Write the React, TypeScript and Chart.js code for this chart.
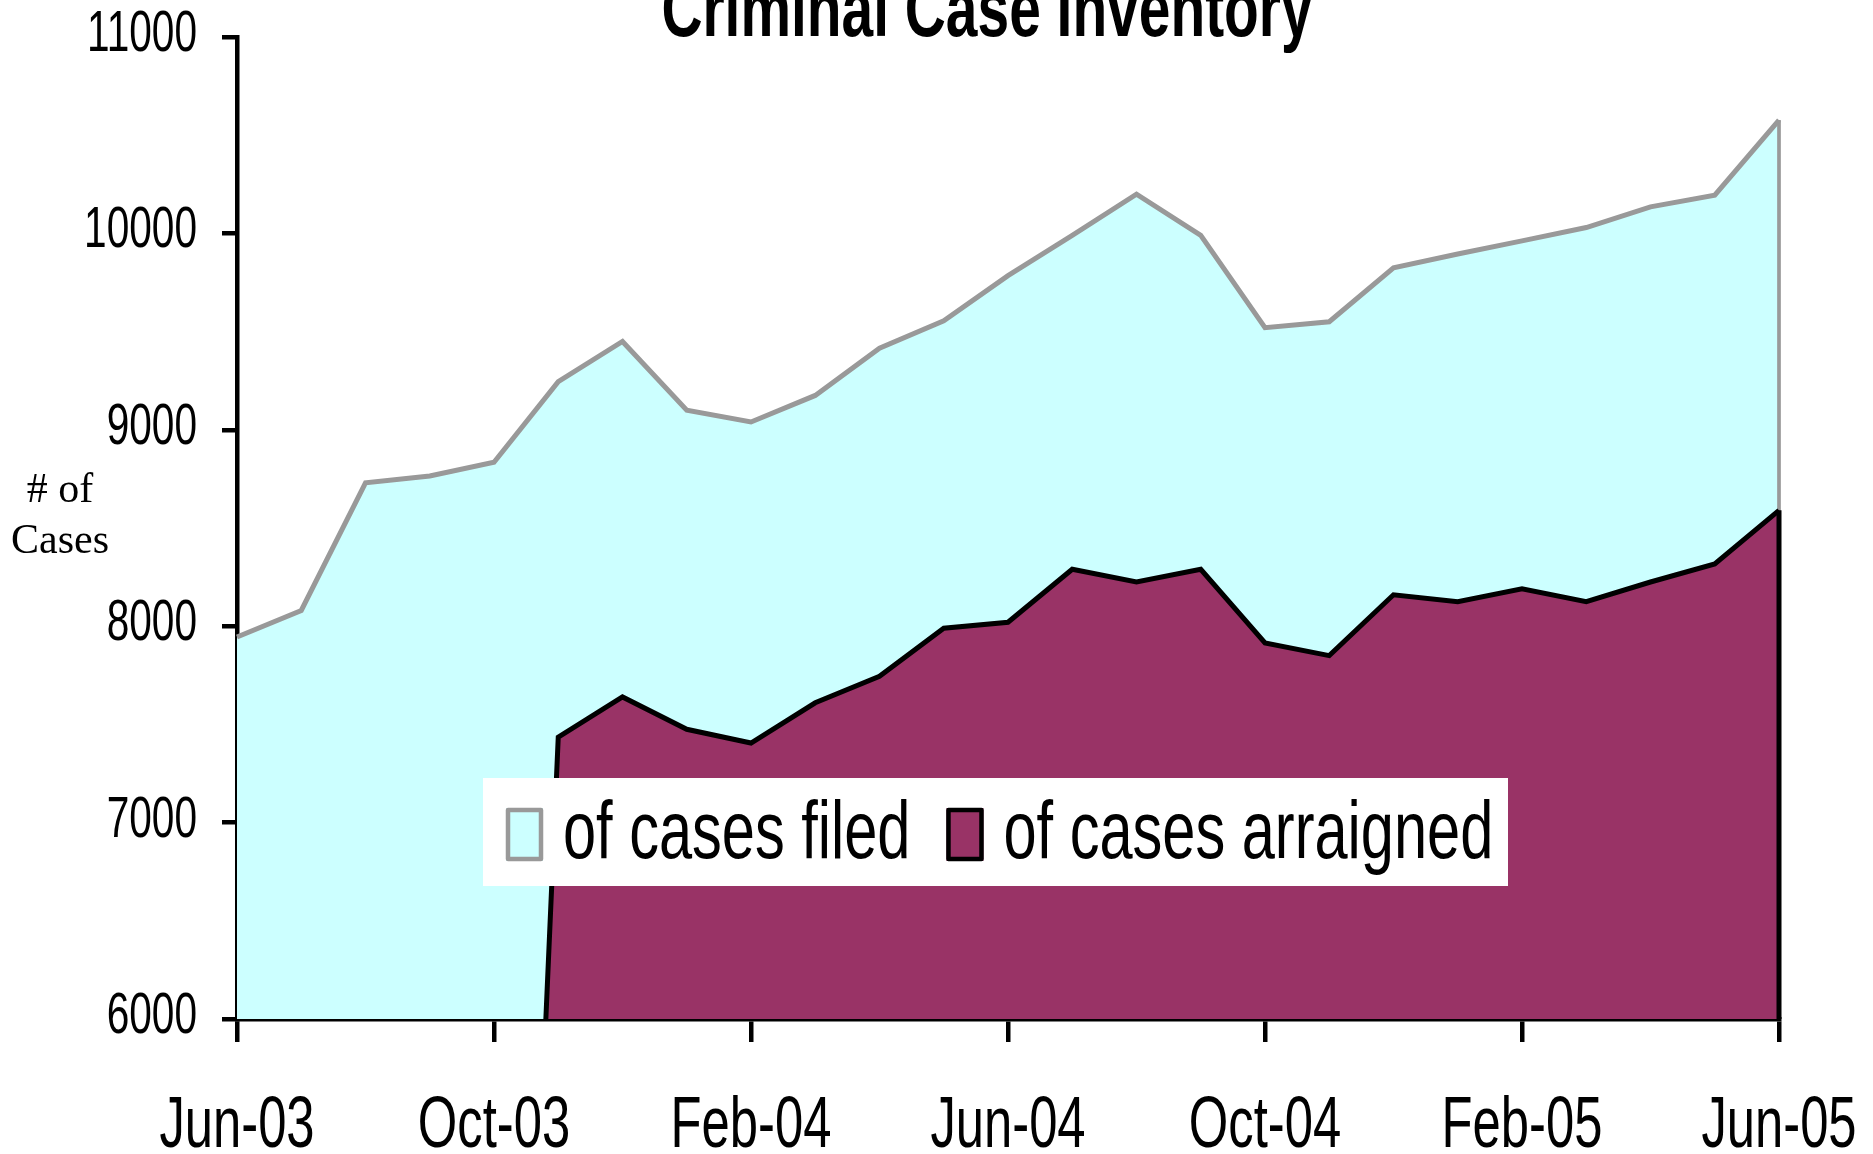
import React, { useEffect, useRef } from "react";
import { Chart, registerables } from "chart.js";

Chart.register(...registerables);

const chartTitle = "Criminal Case Inventory";
const yAxisTitle = ["# of", "Cases"];
const months = [
  "Jun-03", "Jul-03", "Aug-03", "Sep-03", "Oct-03", "Nov-03", "Dec-03",
  "Jan-04", "Feb-04", "Mar-04", "Apr-04", "May-04", "Jun-04", "Jul-04",
  "Aug-04", "Sep-04", "Oct-04", "Nov-04", "Dec-04", "Jan-05", "Feb-05",
  "Mar-05", "Apr-05", "May-05", "Jun-05",
];
const casesFiled = [
  7945, 8080, 8730, 8765, 8835, 9245, 9450, 9100, 9040, 9175, 9415, 9555,
  9785, 9990, 10200, 9990, 9520, 9550, 9825, 9895, 9962, 10030, 10135, 10195,
  10577,
];
const casesArraigned = [
  0, 0, 0, 0, 0, 7435, 7640, 7475, 7405, 7610, 7745, 7990, 8020, 8290, 8225,
  8290, 7915, 7850, 8160, 8125, 8190, 8125, 8225, 8317, 8590,
];
const seriesNames = ["of cases filed", "of cases arraigned"];
const xTickStep = 4;
const yMin = 6000;
const yMax = 11000;
const yStep = 1000;

const SANS = '"Liberation Sans", Arial, sans-serif';
const SERIF = '"Liberation Serif", "Times New Roman", serif';

function drawScaled(
  ctx: CanvasRenderingContext2D,
  text: string,
  x: number,
  y: number,
  font: string,
  sx: number,
  align: "left" | "center" | "right"
) {
  ctx.save();
  ctx.font = font;
  ctx.textAlign = "left";
  ctx.textBaseline = "alphabetic";
  ctx.fillStyle = "#000";
  const w = ctx.measureText(text).width * sx;
  const left = align === "center" ? x - w / 2 : align === "right" ? x - w : x;
  ctx.translate(left, y);
  ctx.scale(sx, 1);
  ctx.fillText(text, 0, 0);
  ctx.restore();
  return w;
}

const edgePlugin = {
  id: "areaEdges",
  afterDatasetDraw(chart: any, args: any) {
    const meta = args.meta;
    const ds = chart.data.datasets[args.index];
    const pts = meta.data;
    if (!pts.length) return;
    const last = pts[pts.length - 1];
    const ctx = chart.ctx;
    ctx.save();
    ctx.strokeStyle = ds.borderColor;
    ctx.lineWidth = ds.edgeWidth || 3.5;
    ctx.beginPath();
    ctx.moveTo(last.x, Math.max(last.y, chart.chartArea.top));
    ctx.lineTo(last.x, chart.chartArea.bottom);
    ctx.stroke();
    ctx.restore();
  },
};

const textPlugin = {
  id: "scaledTexts",
  afterDraw(chart: any) {
    const ctx: CanvasRenderingContext2D = chart.ctx;
    const xs = chart.scales.x;
    const ys = chart.scales.y;
    const area = chart.chartArea;

    // title
    drawScaled(ctx, chartTitle, 987, 36, `bold 79px ${SANS}`, 0.72, "center");

    // y axis title
    ctx.save();
    ctx.font = `42px ${SERIF}`;
    ctx.fillStyle = "#000";
    ctx.textAlign = "center";
    ctx.textBaseline = "alphabetic";
    ctx.fillText(yAxisTitle[0], 60, 502);
    ctx.fillText(yAxisTitle[1], 60, 553);
    ctx.restore();

    // y tick labels
    ys.ticks.forEach((t: any) => {
      const y = ys.getPixelForValue(t.value);
      drawScaled(ctx, String(t.value), area.left - 40, y + 14, `58px ${SANS}`, 0.7, "right");
    });

    // x tick labels
    months.forEach((m, i) => {
      if (i % xTickStep !== 0) return;
      const x = xs.getPixelForTick(i);
      drawScaled(ctx, m, x, area.bottom + 128, `72px ${SANS}`, 0.705, "center");
    });

    // legend
    const boxL = 483, boxT = 778, boxR = 1508, boxB = 886;
    ctx.save();
    ctx.fillStyle = "#fff";
    ctx.fillRect(boxL, boxT, boxR - boxL, boxB - boxT);
    ctx.restore();
    let cx = 506;
    const gapAfterText = 36;
    chart.data.datasets
      .slice()
      .sort((a: any, b: any) => a.legendIndex - b.legendIndex)
      .forEach((ds: any) => {
        ctx.save();
        ctx.fillStyle = ds.backgroundColor;
        ctx.fillRect(cx, 808, 37, 53);
        ctx.strokeStyle = ds.borderColor;
        ctx.lineWidth = 4.5;
        ctx.lineJoin = "round";
        ctx.strokeRect(cx + 2, 810, 33, 49);
        ctx.restore();
        const w = drawScaled(ctx, ds.label, cx + 57, 858, `81px ${SANS}`, 0.735, "left");
        cx = cx + 57 + w + gapAfterText;
      });
  },
};

export default function App() {
  const ref = useRef<HTMLCanvasElement | null>(null);
  useEffect(() => {
    if (!ref.current) return;
    const chart = new Chart(ref.current, {
      type: "line",
      data: {
        labels: months,
        datasets: [
          {
            label: seriesNames[0],
            data: casesFiled,
            borderColor: "#999999",
            backgroundColor: "#CCFFFF",
            borderWidth: 5,
            fill: "start",
            pointRadius: 0,
            pointHoverRadius: 0,
            tension: 0,
            order: 2,
            legendIndex: 0,
            edgeWidth: 3.7,
          } as any,
          {
            label: seriesNames[1],
            data: casesArraigned,
            borderColor: "#000000",
            backgroundColor: "#993366",
            borderWidth: 5,
            fill: "start",
            pointRadius: 0,
            pointHoverRadius: 0,
            tension: 0,
            order: 1,
            legendIndex: 1,
            edgeWidth: 5,
          } as any,
        ],
      },
      options: {
        responsive: false,
        animation: false,
        events: [],
        layout: { padding: { top: 37, right: 94, left: 0, bottom: 0 } },
        plugins: {
          legend: { display: false },
          title: { display: false },
          tooltip: { enabled: false },
        },
        scales: {
          x: {
            type: "category",
            offset: false,
            z: 1,
            afterFit: (s: any) => {
              s.height = 135;
            },
            ticks: { display: false, autoSkip: false },
            grid: {
              display: true,
              drawOnChartArea: false,
              drawTicks: true,
              tickLength: 23,
              lineWidth: 4.5,
              tickWidth: 4.5,
              tickColor: (c: any) => (c.index % xTickStep === 0 ? "#000" : "rgba(0,0,0,0)"),
            },
            border: { display: true, color: "#000", width: 4.5 },
          },
          y: {
            min: yMin,
            max: yMax,
            z: 1,
            afterFit: (s: any) => {
              s.width = 237;
            },
            ticks: { display: false, stepSize: yStep },
            grid: {
              display: true,
              drawOnChartArea: false,
              drawTicks: true,
              tickLength: 15,
              lineWidth: 4.5,
              tickWidth: 4.5,
              tickColor: "#000",
            },
            border: { display: true, color: "#000", width: 4.5 },
          },
        },
      } as any,
      plugins: [edgePlugin, textPlugin],
    });
    return () => chart.destroy();
  }, []);
  return (
    <canvas
      ref={ref}
      width={1873}
      height={1154}
      style={{ position: "absolute", left: 0, top: 0, display: "block" }}
    />
  );
}
